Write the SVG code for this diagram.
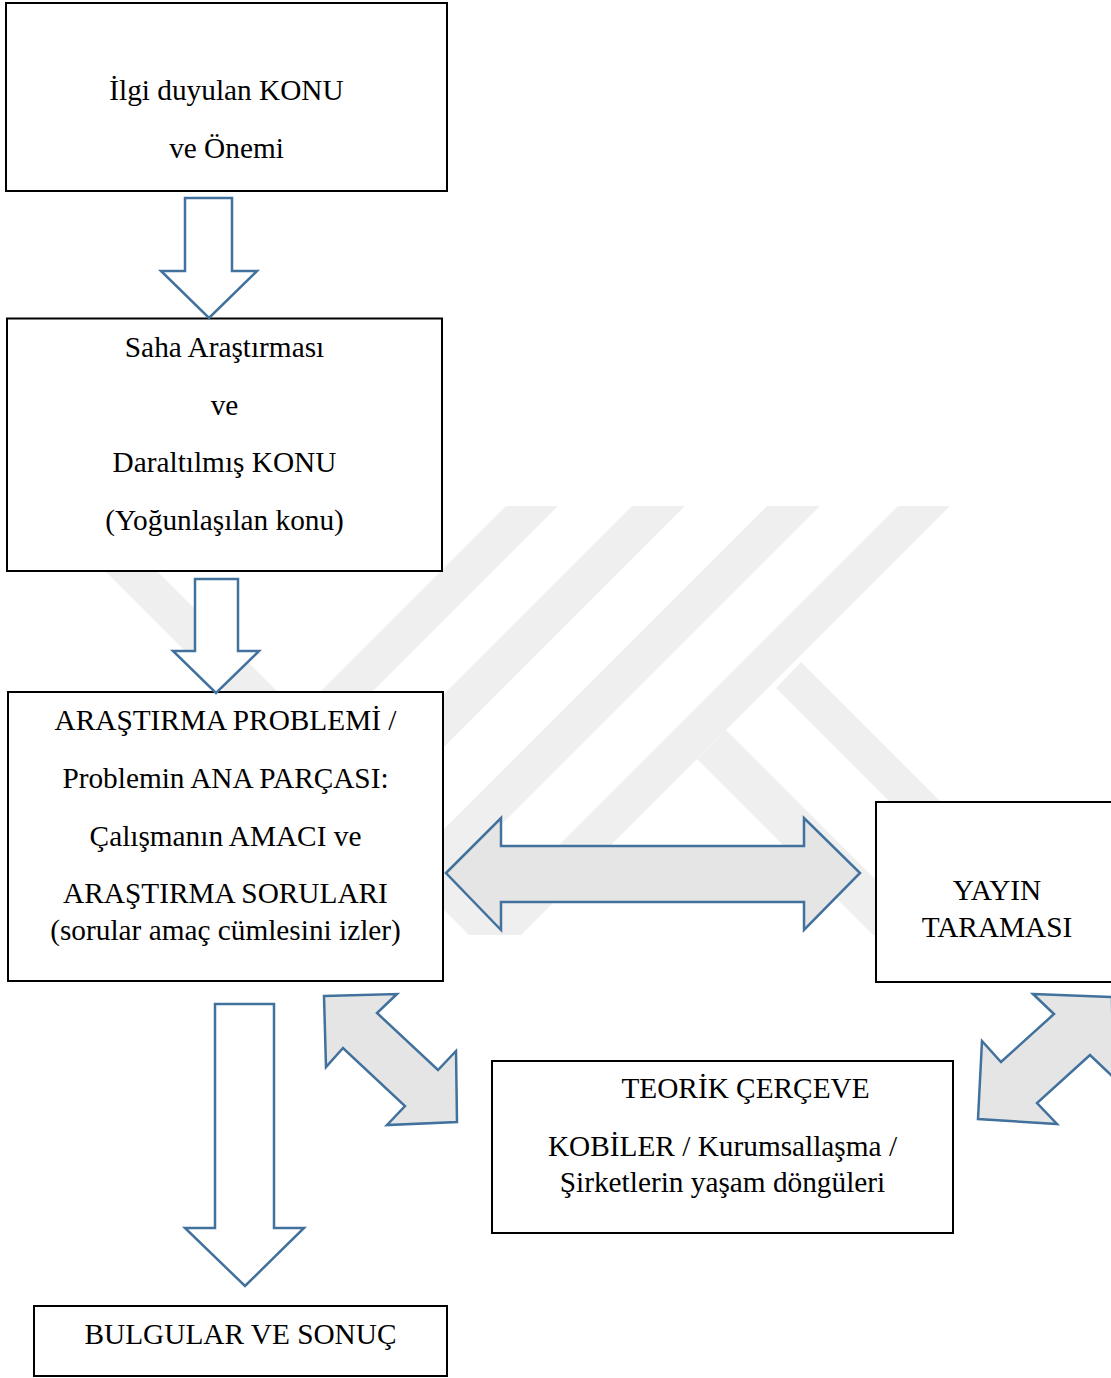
<svg xmlns="http://www.w3.org/2000/svg" width="1111" height="1378" viewBox="0 0 1111 1378">
  <defs>
    <style>
      .box { fill: #ffffff; stroke: #000000; stroke-width: 2; }
      .txt { font-family: "Liberation Serif", "Times New Roman", serif; font-size: 29.3px; fill: #000000; text-anchor: middle; }
      .down { fill: #ffffff; stroke: #41719c; stroke-width: 2.5; stroke-linejoin: miter; }
      .dbl { fill: #e5e5e5; stroke: #41719c; stroke-width: 2.5; stroke-linejoin: miter; }
      .wm { fill: #efefef; }
    </style>
    <clipPath id="wmclip">
      <rect x="0" y="506" width="1111" height="429"/>
    </clipPath>
  </defs>
  <rect x="0" y="0" width="1111" height="1378" fill="#ffffff"/>

  <!-- watermark -->
  <g id="watermark" clip-path="url(#wmclip)">
    <polygon class="wm" points="40,506 92,506 560,974 508,974"/>
    <polygon class="wm" points="506,506 558,506 100,964 48,964"/>
    <polygon class="wm" points="632,506 685,506 225,966 172,966"/>
    <polygon class="wm" points="767,506 820,506 360,966 307,966"/>
    <polygon class="wm" points="898,506 950,506 490,966 438,966"/>
    <polygon class="wm" points="697,759 726,730 990,994 961,1023"/>
    <polygon class="wm" points="776,688 801,662 1080,941 1055,967"/>
  </g>

  <!-- nodes -->
  <g id="node-konu">
    <rect class="box" x="6" y="3" width="441" height="188"/>
    <text class="txt" x="226.5" y="100">İlgi duyulan KONU</text>
    <text class="txt" x="226.5" y="158">ve Önemi</text>
  </g>
  <g id="node-saha">
    <rect class="box" x="7" y="318.5" width="435" height="252.5"/>
    <text class="txt" x="224.5" y="357">Saha Araştırması</text>
    <text class="txt" x="224.5" y="414.5">ve</text>
    <text class="txt" x="224.5" y="472">Daraltılmış KONU</text>
    <text class="txt" x="224.5" y="529.5">(Yoğunlaşılan konu)</text>
  </g>
  <g id="node-problem">
    <rect class="box" x="8" y="692" width="435" height="289"/>
    <text class="txt" x="225.5" y="730">ARAŞTIRMA PROBLEMİ /</text>
    <text class="txt" x="225.5" y="788">Problemin ANA PARÇASI:</text>
    <text class="txt" x="225.5" y="846">Çalışmanın AMACI ve</text>
    <text class="txt" x="225.5" y="903">ARAŞTIRMA SORULARI</text>
    <text class="txt" x="225.5" y="940">(sorular amaç cümlesini izler)</text>
  </g>
  <g id="node-yayin">
    <rect class="box" x="876" y="802" width="250" height="180"/>
    <text class="txt" x="997" y="900">YAYIN</text>
    <text class="txt" x="997" y="937">TARAMASI</text>
  </g>
  <g id="node-teorik">
    <rect class="box" x="492" y="1061" width="461" height="172"/>
    <text class="txt" x="745.5" y="1098">TEORİK ÇERÇEVE</text>
    <text class="txt" x="722.5" y="1156">KOBİLER / Kurumsallaşma /</text>
    <text class="txt" x="722.5" y="1192">Şirketlerin yaşam döngüleri</text>
  </g>
  <g id="node-bulgular">
    <rect class="box" x="34" y="1306" width="413" height="70"/>
    <text class="txt" x="240.5" y="1344">BULGULAR VE SONUÇ</text>
  </g>

  <!-- connectors -->
  <g id="connectors">
    <polygon class="down" points="185,198 232,198 232,271 257,271 209,318 161,271 185,271"/>
    <polygon class="down" points="195,579 238,579 238,651 259,651 216,693 173,651 195,651"/>
    <polygon class="down" points="215,1004 274,1004 274,1228 304,1228 245,1286 185,1228 215,1228"/>
    <polygon class="dbl" points="446,873 501,818 501,846 804,846 804,818 860,873 804,930 804,902 501,902 501,930"/>
    <polygon class="dbl" points="324,996 397,994 377,1013 438,1070 456,1051 457,1122 387,1125 405,1106 343,1048 326,1067"/>
    <polygon class="dbl" points="1033,994 1112,997 1113,1077 1090,1055 1037,1103 1057,1124 978,1119 982,1041 1001,1062 1054,1014"/>
  </g>
</svg>
